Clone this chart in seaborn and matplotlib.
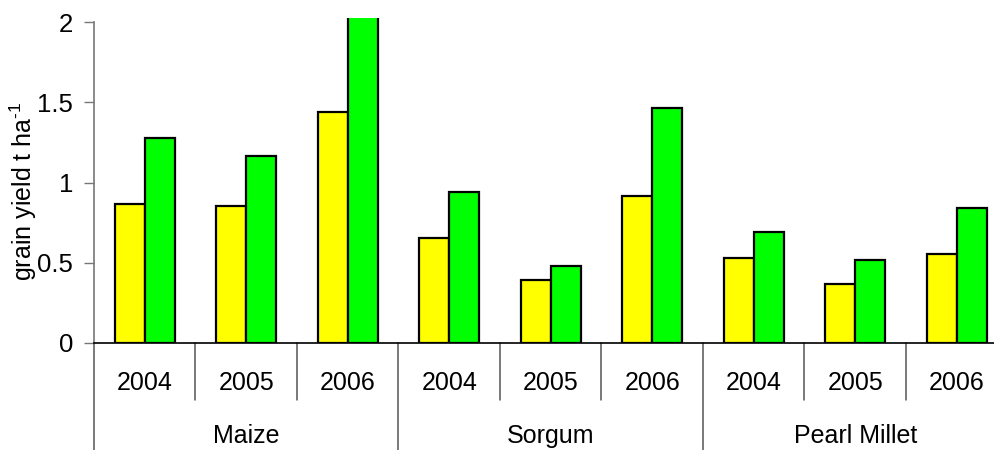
import matplotlib
matplotlib.use("Agg")
import matplotlib.pyplot as plt
import matplotlib.transforms as mtransforms
from matplotlib.ticker import FuncFormatter
import pandas as pd
import seaborn as sns

# Grain yield (t/ha) per crop and season, two treatments
crops = ["Maize", "Sorgum", "Pearl Millet"]
years = ["2004", "2005", "2006"]
treatments = ["control", "fertilized"]
control_yield = [0.865, 0.853, 1.437, 0.655, 0.391, 0.915, 0.528, 0.368, 0.555]
fertilized_yield = [1.277, 1.165, 2.06, 0.94, 0.48, 1.462, 0.69, 0.516, 0.84]
bar_colors = ["#FFFF00", "#00FF00"]
y_ticks = [0, 0.5, 1, 1.5, 2]

plots = [f"{c} {y}" for c in crops for y in years]
df = pd.DataFrame({
    "plot": plots * 2,
    "treatment": [treatments[0]] * len(plots) + [treatments[1]] * len(plots),
    "yield": control_yield + fertilized_yield,
})

sns.set_theme(style="white")
plt.rcParams["font.family"] = ["Liberation Sans", "DejaVu Sans"]
plt.rcParams["mathtext.fontset"] = "custom"
plt.rcParams["mathtext.rm"] = "Liberation Sans"
plt.rcParams["mathtext.it"] = "Liberation Sans"
plt.rcParams["text.color"] = "black"
plt.rcParams["axes.labelcolor"] = "black"
plt.rcParams["xtick.labelcolor"] = "black"
plt.rcParams["ytick.labelcolor"] = "black"

W, H = 995, 450
fig = plt.figure(figsize=(W / 100, H / 100), dpi=100)
ax_left, ax_bottom_px, ax_top_px = 94, 343, 18
ax = fig.add_axes([ax_left / W, (H - ax_bottom_px) / H,
                   913.5 / W, (ax_bottom_px - ax_top_px) / H])

sns.barplot(data=df, x="plot", y="yield", hue="treatment", order=plots,
            hue_order=treatments, palette=bar_colors, width=0.595,
            edgecolor="black", linewidth=1.6, saturation=1, legend=False,
            ax=ax)

ax.set_xlim(-0.5, len(plots) - 0.5)
ax.set_ylim(0, 2.025)
ax.set_yticks(y_ticks)
ax.yaxis.set_major_formatter(FuncFormatter(lambda v, _: f"{v:g}"))
ax.tick_params(axis="y", which="major", direction="out", length=7, width=1,
               color="#777777", labelsize=18.5, pad=8, left=True)
ax.set_xticks(range(len(plots)))
ax.set_xticklabels(years * len(crops))
ax.tick_params(axis="x", length=0, labelsize=18, pad=20)
ax.set_xlabel("")
ax.set_ylabel("grain yield t ha$^{\u20101}$", fontsize=18)
ax.yaxis.set_label_coords(-0.060, 0.468)

for side in ("top", "right"):
    ax.spines[side].set_visible(False)
ax.spines["left"].set_bounds(0, 2)
ax.spines["left"].set_color("#777777")
ax.spines["left"].set_linewidth(1.2)
ax.spines["bottom"].set_color("black")
ax.spines["bottom"].set_linewidth(1.2)
ax.grid(False)

# Category dividers below the axis
trans = mtransforms.blended_transform_factory(ax.transData, fig.transFigure)
y_axis = (H - ax_bottom_px) / H
y_year = (H - 400) / H
for i in range(len(plots) + 1):
    x = i - 0.5
    y_end = 0.0 if i % len(years) == 0 else y_year
    ax.plot([x, x], [y_axis, y_end], transform=trans, color="#555555",
            lw=1.1, clip_on=False)

for k, crop in enumerate(crops):
    xc = k * len(years) + (len(years) - 1) / 2
    ax.text(xc, (H - 443) / H, crop, transform=trans, ha="center",
            va="baseline", fontsize=18)

fig.savefig("out.png", dpi=100)
